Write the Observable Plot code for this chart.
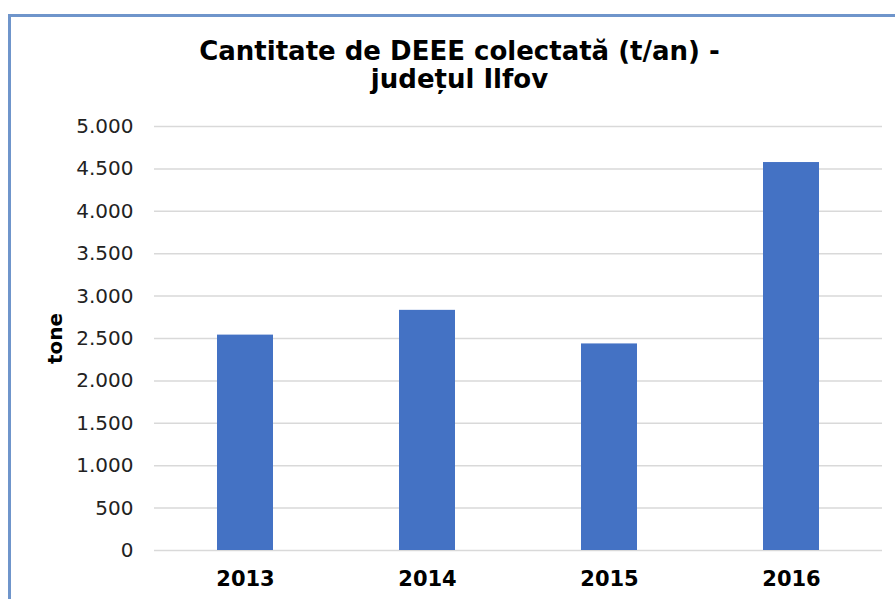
<!DOCTYPE html>
<html>
<head>
<meta charset="utf-8">
<script src="https://cdn.jsdelivr.net/npm/d3@7"></script>
<script src="https://cdn.jsdelivr.net/npm/@observablehq/plot@0.6"></script>
<style>
  html, body { margin: 0; padding: 0; background: #fff; width: 895px; height: 599px; overflow: hidden; }
  #frame { position: absolute; left: 8px; top: 14px; width: 1000px; height: 700px; border: 3px solid #6f95cb; box-sizing: border-box; }
  #title { position: absolute; left: 0; top: 37px; width: 919px; text-align: center; font-family: "DejaVu Sans", Verdana, sans-serif; font-weight: bold; font-size: 26px; line-height: 28px; color: #000; }
  #chart { position: absolute; left: 0; top: 100px; }
</style>
</head>
<body>
<div id="frame"></div>
<div id="title">Cantitate de DEEE colectată (t/an) -<br>județul Ilfov</div>
<div id="chart"></div>
<script>
const years = ["2013", "2014", "2015", "2016"];
const values = [2540, 2832, 2436, 4575];
const yTicks = [0, 500, 1000, 1500, 2000, 2500, 3000, 3500, 4000, 4500, 5000];
const yLabel = "tone";

const data = years.map((year, i) => ({year, value: values[i]}));
const fmt = d => d3.format(",")(d).replace(/,/g, ".");

const chart = Plot.plot({
  width: 895,
  height: 499,
  marginTop: 26,
  marginBottom: 49,
  marginLeft: 154,
  marginRight: 13,
  style: {fontFamily: "DejaVu Sans, Verdana, sans-serif", fontSize: "20px", color: "#000", background: "transparent", overflow: "visible"},
  x: {type: "band", domain: years, paddingInner: 0.69, paddingOuter: 0.345, axis: null},
  y: {domain: [0, 5000], axis: null},
  marks: [
    Plot.gridY(yTicks, {stroke: "#d9d9d9", strokeOpacity: 1, strokeWidth: 1.5}),
    Plot.barY(data, {x: "year", y: "value", fill: "#4472c4"}),
    Plot.axisY(yTicks, {tickSize: 0, tickPadding: 21, tickFormat: fmt, fontSize: 20, fill: "#222", label: null}),
    Plot.axisX({tickSize: 0, tickPadding: 21, fontWeight: "bold", fontSize: 21, fill: "#000", label: null}),
    Plot.text([yLabel], {frameAnchor: "left", textAnchor: "middle", lineAnchor: "middle", dx: -99, rotate: -90, fontWeight: "bold", fontSize: 20, fill: "#000"})
  ]
});
document.getElementById("chart").appendChild(chart);
</script>
</body>
</html>
